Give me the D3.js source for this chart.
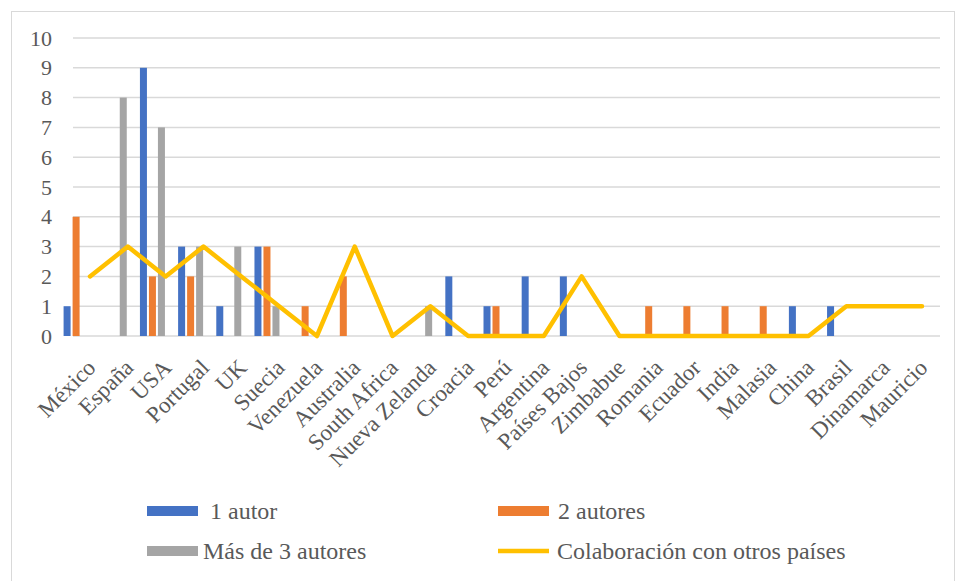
<!DOCTYPE html>
<html>
<head>
<meta charset="utf-8">
<script src="https://cdn.jsdelivr.net/npm/d3@7"></script>
<style>
  html, body { margin: 0; padding: 0; background: #fff; }
  svg { display: block; }
  svg text { font-family: "Liberation Serif", "Times New Roman", "DejaVu Serif", serif; fill: #595959; }
</style>
</head>
<body>
<svg id="chart" width="958" height="581"></svg>
<script>
// Countries on the category axis
const countries = ["México", "España", "USA", "Portugal", "UK", "Suecia", "Venezuela",
  "Australia", "South Africa", "Nueva Zelanda", "Croacia", "Perú", "Argentina",
  "Países Bajos", "Zimbabue", "Romania", "Ecuador", "India", "Malasia", "China",
  "Brasil", "Dinamarca", "Mauricio"];

// Publications per country by authorship
const unAutor      = [1, 0, 9, 3, 1, 3, 0, 0, 0, 0, 2, 1, 2, 2, 0, 0, 0, 0, 0, 1, 1, 0, 0];
const dosAutores   = [4, 0, 2, 2, 0, 3, 1, 2, 0, 0, 0, 1, 0, 0, 0, 1, 1, 1, 1, 0, 0, 0, 0];
const masDeTres    = [0, 8, 7, 3, 3, 1, 0, 0, 0, 1, 0, 0, 0, 0, 0, 0, 0, 0, 0, 0, 0, 0, 0];
const colaboracion = [2, 3, 2, 3, 2, 1, 0, 3, 0, 1, 0, 0, 0, 2, 0, 0, 0, 0, 0, 0, 1, 1, 1];

const seriesNames = ["1 autor", "2 autores", "Más de 3 autores"];
const lineName = "Colaboración con otros países";
const yTicks = [0, 1, 2, 3, 4, 5, 6, 7, 8, 9, 10];

const colors = { "1 autor": "#4472C4", "2 autores": "#ED7D31", "Más de 3 autores": "#A5A5A5" };
const lineColor = "#FFC000";
const serif = '"Liberation Serif", "Times New Roman", "DejaVu Serif", serif';

const svg = d3.select("#chart");

// Chart frame
svg.append("rect")
  .attr("x", 11.5).attr("y", 11.5)
  .attr("width", 943).attr("height", 580)
  .attr("fill", "none").attr("stroke", "#d9d9d9").attr("stroke-width", 1);

const gridLeft = 73, gridRight = 940;
const y = d3.scaleLinear().domain([0, 10]).range([336, 38]);

// Bars use a band scale; the line and labels use a point scale
const x = d3.scaleBand().domain(countries).range([57, 935]).padding(0);
const xLine = d3.scalePoint().domain(countries).range([90, 922]);
const xInner = d3.scaleBand().domain(seriesNames).range([-12.5, 12.5]).paddingInner(2 / 9);

// Horizontal gridlines
svg.append("g").selectAll("line")
  .data(yTicks)
  .join("line")
  .attr("x1", gridLeft).attr("x2", gridRight)
  .attr("y1", d => y(d)).attr("y2", d => y(d))
  .attr("stroke", "#d9d9d9").attr("stroke-width", 1.5);

// Y axis labels
const yAxis = d3.axisLeft(y).tickValues(yTicks).tickSize(0).tickPadding(0).tickFormat(d3.format("d"));
const gy = svg.append("g").attr("transform", "translate(52,0)").call(yAxis);
gy.attr("font-family", null).attr("font-size", null);
gy.select(".domain").remove();
gy.selectAll("text")
  .attr("font-family", serif)
  .style("font-family", serif)
  .style("font-size", "22px").attr("fill", "#595959");

// Bars
const barData = [];
countries.forEach((c, i) => {
  [unAutor, dosAutores, masDeTres].forEach((arr, s) => {
    barData.push({ country: c, series: seriesNames[s], value: arr[i] });
  });
});
svg.append("g").selectAll("rect")
  .data(barData.filter(d => d.value > 0))
  .join("rect")
  .attr("x", d => x(d.country) + x.bandwidth() / 2 + xInner(d.series))
  .attr("width", xInner.bandwidth())
  .attr("y", d => y(d.value))
  .attr("height", d => y(0) - y(d.value))
  .attr("fill", d => colors[d.series]);

// Collaboration line
const line = d3.line()
  .x((d, i) => xLine(countries[i]))
  .y(d => y(d));
svg.append("path")
  .datum(colaboracion)
  .attr("d", line)
  .attr("fill", "none")
  .attr("stroke", lineColor)
  .attr("stroke-width", 4.5)
  .attr("stroke-linejoin", "round")
  .attr("stroke-linecap", "round");

// Category labels, rotated 45 degrees
svg.append("g").selectAll("text")
  .data(countries)
  .join("text")
  .attr("transform", d => `translate(${xLine(d) + 7},369) rotate(-45)`)
  .attr("text-anchor", "end")
  .attr("font-family", serif)
  .style("font-family", serif)
  .style("font-size", "23px")
  .text(d => d);

// Legend
const legendItems = [
  { name: "1 autor", type: "rect", x: 147, y: 511, tx: 210 },
  { name: "2 autores", type: "rect", x: 498, y: 511, tx: 558 },
  { name: "Más de 3 autores", type: "rect", x: 147, y: 551, tx: 203 },
  { name: lineName, type: "line", x: 498, y: 551, tx: 557 }
];
const lg = svg.append("g");
legendItems.forEach(it => {
  if (it.type === "rect") {
    lg.append("rect").attr("x", it.x).attr("y", it.y - 5).attr("width", 51).attr("height", 10)
      .attr("fill", colors[it.name]);
  } else {
    lg.append("line").attr("x1", it.x).attr("x2", it.x + 51).attr("y1", it.y).attr("y2", it.y)
      .attr("stroke", lineColor).attr("stroke-width", 4.5);
  }
  lg.append("text").attr("x", it.tx).attr("y", it.y).attr("dy", "0.35em")
    .attr("font-family", serif)
    .style("font-family", serif)
    .style("font-size", "24px").text(it.name);
});
</script>
</body>
</html>
